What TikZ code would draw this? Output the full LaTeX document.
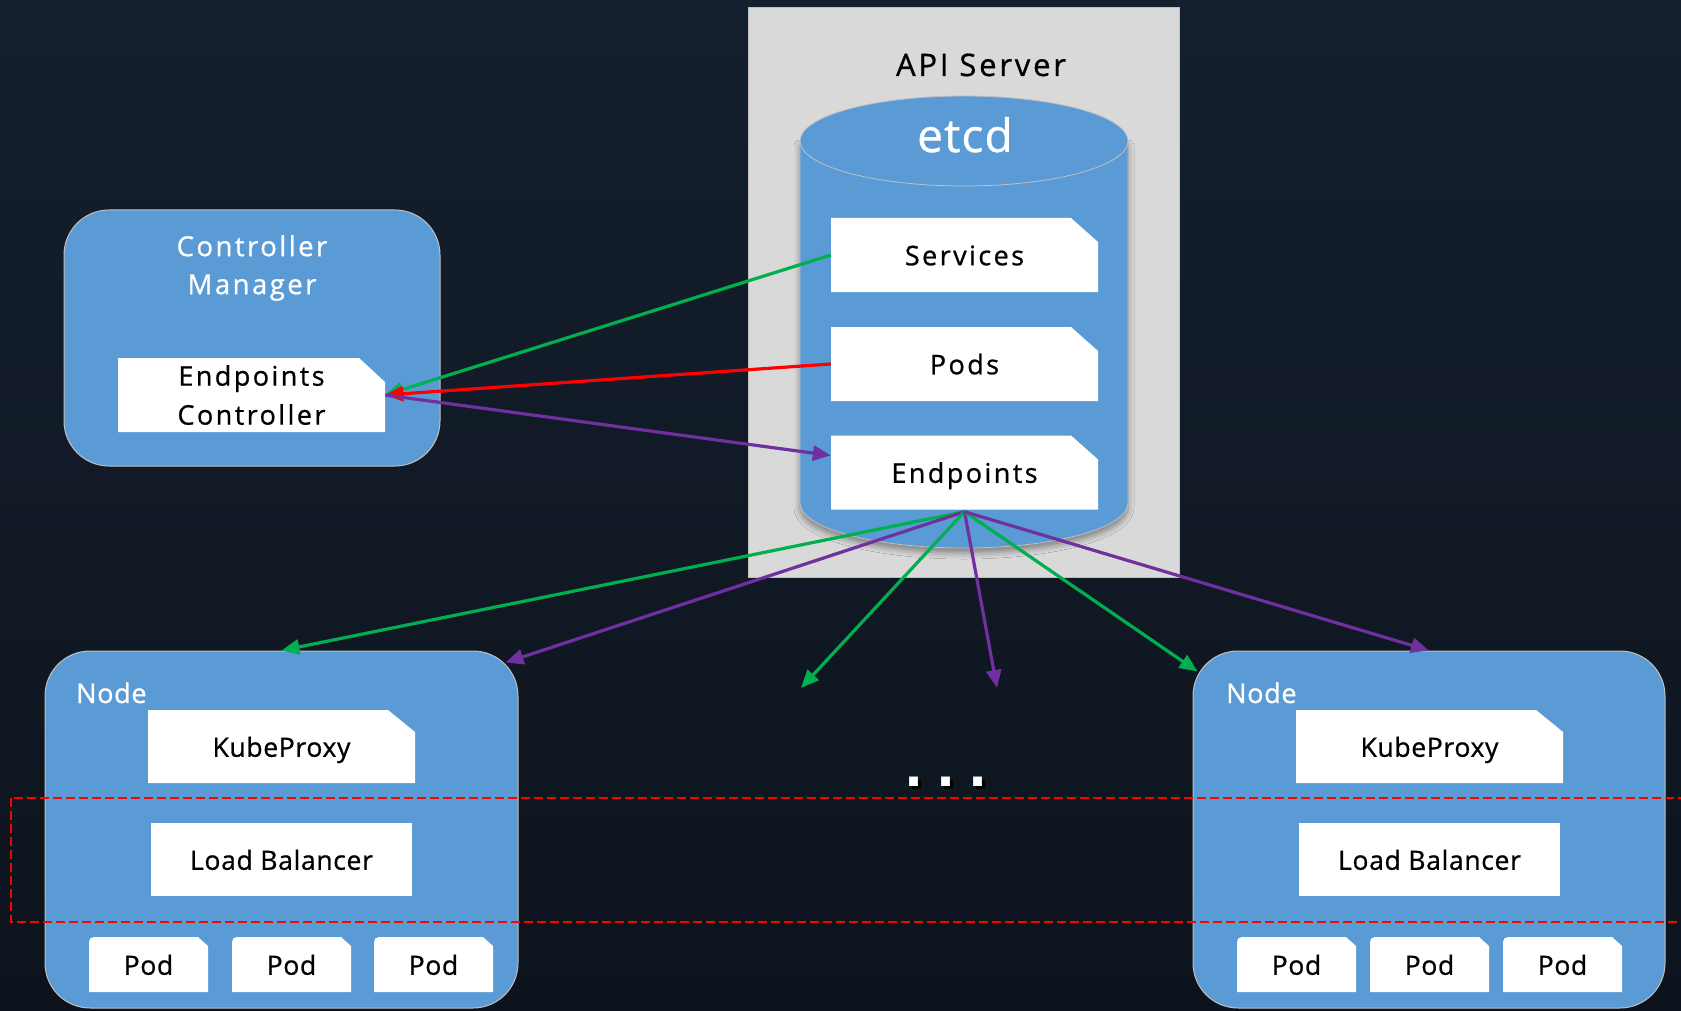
\documentclass[tikz,border=0pt]{standalone}
\usepackage{fontspec}
\setmainfont{Open Sans}
\newfontfamily\wideface[LetterSpace=9,FakeBold=0.8]{Open Sans}
\newfontfamily\nodeface[LetterSpace=2.5,FakeBold=0.8]{Open Sans}
\newfontfamily\dotface{DejaVu Sans}
\usetikzlibrary{arrows.meta,shadows.blur}

\definecolor{bgtop}{HTML}{15202E}
\definecolor{bgbot}{HTML}{0C131C}
\definecolor{kblue}{HTML}{5B9BD5}
\definecolor{kgray}{HTML}{D9D9D9}
\definecolor{kedge}{HTML}{BFBFBF}
\definecolor{kgreen}{HTML}{00B050}
\definecolor{kpurple}{HTML}{7030A0}
\definecolor{kred}{HTML}{FF0000}

\begin{document}
\begin{tikzpicture}[x=1pt,y=1pt,
  cutfill/.style n args={2}{path picture={\fill[white]
      (path picture bounding box.south west)
      |- ([xshift=-#1]path picture bounding box.north east)
      -- ([yshift=-#2]path picture bounding box.north east)
      -- (path picture bounding box.south east) -- cycle;}},
  oneline/.style={text height=20.5pt, text depth=0pt},
  card/.style={inner sep=0pt, minimum width=267pt, minimum height=74pt,
      font=\wideface\fontsize{27pt}{39pt}\selectfont, align=center,
      cutfill={27pt}{24pt}},
  proxycard/.style={inner sep=0pt, minimum width=267pt, minimum height=73pt, oneline,
      font=\nodeface\fontsize{26.5pt}{32pt}\selectfont, cutfill={27pt}{22pt}},
  lbcard/.style={inner sep=0pt, minimum width=261pt, minimum height=73pt, oneline,
      fill=white, font=\nodeface\fontsize{26.5pt}{32pt}\selectfont},
  podcard/.style={inner sep=0pt, minimum width=119pt, minimum height=55pt, oneline,
      font=\nodeface\fontsize{26.5pt}{32pt}\selectfont,
      path picture={\fill[white]
        (path picture bounding box.south west)
        -- ([yshift=-11pt]path picture bounding box.north west)
        .. controls (path picture bounding box.north west) ..
        ([xshift=11pt]path picture bounding box.north west)
        -- ([xshift=-10pt]path picture bounding box.north east)
        -- ([yshift=-9pt]path picture bounding box.north east)
        -- (path picture bounding box.south east) -- cycle;}},
  panel/.style={draw=kedge, line width=1pt, fill=kblue, rounded corners=45pt},
  paneltitle/.style={text=white, font=\nodeface\fontsize{27pt}{32pt}\selectfont},
  flow/.style={line width=3.2pt, -{Triangle[length=18pt,width=15pt]}},
  dots/.style={inner sep=0pt, font=\dotface\bfseries\fontsize{50pt}{50pt}\selectfont},
]
% canvas
\useasboundingbox (0,0) rectangle (1681,-1011);
\shade[top color=bgtop, bottom color=bgbot] (0,0) rectangle (1681,-1011);

% API server with the etcd store
\node[fill=kgray, draw=kedge, line width=0.8pt, minimum width=431pt,
      minimum height=570pt, inner sep=0pt] (api) at (963.5,-292) {};
\node[anchor=base, font=\wideface\fontsize{31pt}{36pt}\selectfont] (apilabel)
      at (981,-76) {API Server};

\fill[kblue, blur shadow={shadow xshift=0pt, shadow yshift=-5pt,
      shadow blur radius=6pt, shadow opacity=40}]
  (800,-141) -- (800,-503) arc[start angle=180, end angle=360, x radius=164, y radius=45]
  -- (1128,-141) -- cycle;
\draw[kedge, line width=0.8pt]
  (800,-141) -- (800,-503) arc[start angle=180, end angle=360, x radius=164, y radius=45]
  -- (1128,-141);
\filldraw[fill=kblue, draw=kedge, line width=0.8pt] (964,-141) ellipse [x radius=164, y radius=45];
\node[anchor=base, text=white, font=\nodeface\fontsize{46pt}{50pt}\selectfont] (etcd)
      at (965,-152) {etcd};

\node[card, oneline] (svc)  at (964.5,-255)   {Services};
\node[card, oneline] (pods) at (964.5,-364)   {Pods};
\node[card, oneline] (ep)   at (964.5,-472.5) {Endpoints};

% controller manager
\node[panel, minimum width=376pt, minimum height=256pt] (cm) at (252,-338) {};
\node[text=white, align=center, font=\wideface\fontsize{27.5pt}{38pt}\selectfont] (cmlabel)
      at (252,-268) {Controller\\Manager};
\node[card, cutfill={26pt}{24pt}] (ec) at (251.5,-395) {Endpoints\\Controller};

% worker nodes
\node[panel, minimum width=473pt, minimum height=357pt] (ln) at (281.5,-829.5) {};
\node[paneltitle, anchor=base west, inner sep=0pt] (lnlabel) at (76,-703) {Node};
\node[proxycard] (lkp) at (281.5,-746.5) {KubeProxy};
\node[lbcard] (llb) at (281.5,-859.5) {Load Balancer};
\node[podcard] (lp1) at (148.5,-964.5) {Pod};
\node[podcard] (lp2) at (291.5,-964.5) {Pod};
\node[podcard] (lp3) at (433.5,-964.5) {Pod};

\node[panel, minimum width=472pt, minimum height=357pt] (rn) at (1429,-829.5) {};
\node[paneltitle, anchor=base west, inner sep=0pt] (rnlabel) at (1226,-703) {Node};
\node[proxycard] (rkp) at (1429.5,-746.5) {KubeProxy};
\node[lbcard] (rlb) at (1429.5,-859.5) {Load Balancer};
\node[podcard] (rp1) at (1296.5,-964.5) {Pod};
\node[podcard] (rp2) at (1429.5,-964.5) {Pod};
\node[podcard] (rp3) at (1562.5,-964.5) {Pod};

% more nodes elided
\node[dots, text=black] (moreshadow) at (949,-785) {.\hspace{13pt}.\hspace{13pt}.};
\node[dots, text=white] (more) at (946,-782) {.\hspace{13pt}.\hspace{13pt}.};

% load-balancing band
\draw[kred, line width=1.7pt, dash pattern=on 9pt off 4pt] (11,-798) rectangle (1700,-922);

% watch / update flows
\draw[flow, kgreen]  (svc.west)  -- (ec.east);
\draw[flow, kred]    (pods.west) -- (ec.east);
\draw[flow, kpurple] (ec.east)   -- ([yshift=17pt]ep.west);

\coordinate (fan) at ([yshift=-2pt]ep.south);
\coordinate (g3) at (801,-688);
\coordinate (p3) at (997,-688);
\draw[flow, kgreen]  (fan) -- (ln.north);
\draw[flow, kpurple] (fan) -- ([xshift=-13pt,yshift=-12pt]ln.north east);
\draw[flow, kgreen]  (fan) -- (g3);
\draw[flow, kpurple] (fan) -- (p3);
\draw[flow, kgreen]  (fan) -- ([xshift=5pt,yshift=-21pt]rn.north west);
\draw[flow, kpurple] (fan) -- (rn.north);
\end{tikzpicture}
\end{document}
